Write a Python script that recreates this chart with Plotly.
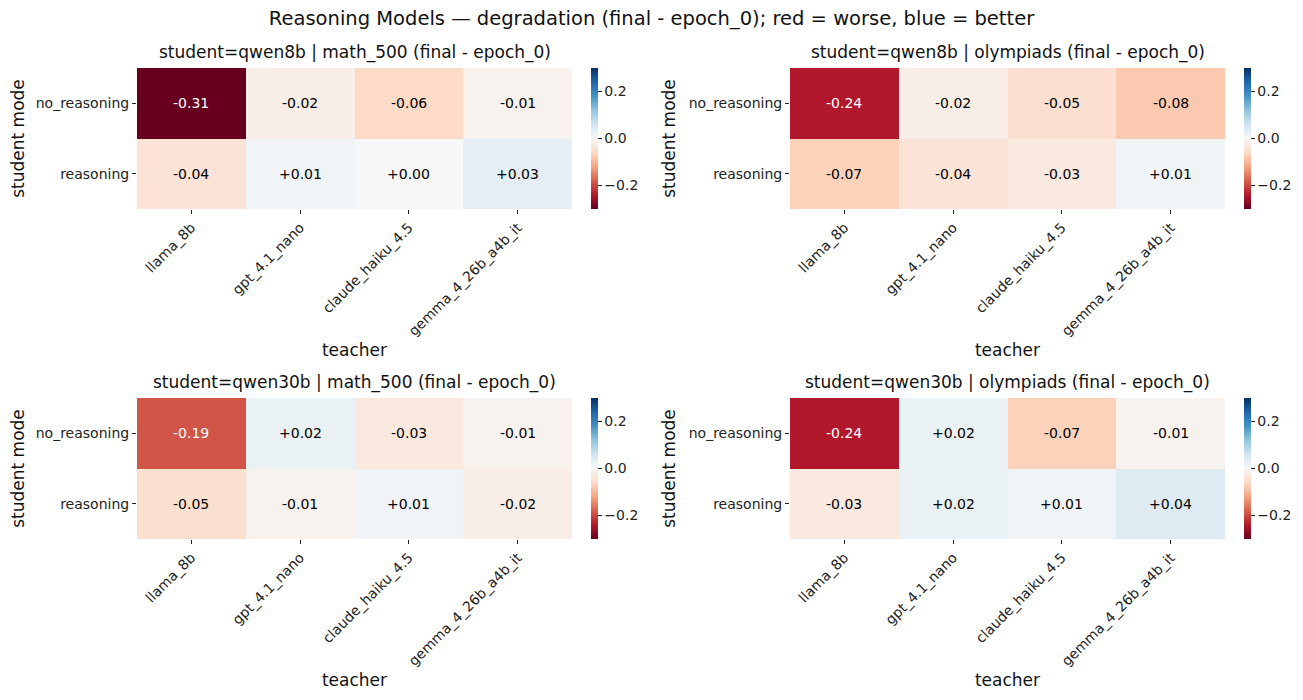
import plotly.graph_objects as go

# ---------------------------------------------------------------------------
# Data
# ---------------------------------------------------------------------------
TEACHERS = ["llama_8b", "gpt_4.1_nano", "claude_haiku_4.5", "gemma_4_26b_a4b_it"]
MODES = ["no_reasoning", "reasoning"]

QWEN8B_MATH500 = [[-0.31, -0.02, -0.06, -0.01],
                  [-0.04, 0.01, 0.00, 0.03]]
QWEN8B_OLYMPIADS = [[-0.24, -0.02, -0.05, -0.08],
                    [-0.07, -0.04, -0.03, 0.01]]
QWEN30B_MATH500 = [[-0.19, 0.02, -0.03, -0.01],
                   [-0.05, -0.01, 0.01, -0.02]]
QWEN30B_OLYMPIADS = [[-0.24, 0.02, -0.07, -0.01],
                     [-0.03, 0.02, 0.01, 0.04]]

PANELS = [
    ("student=qwen8b | math_500 (final - epoch_0)", QWEN8B_MATH500),
    ("student=qwen8b | olympiads (final - epoch_0)", QWEN8B_OLYMPIADS),
    ("student=qwen30b | math_500 (final - epoch_0)", QWEN30B_MATH500),
    ("student=qwen30b | olympiads (final - epoch_0)", QWEN30B_OLYMPIADS),
]

# matplotlib RdBu
RDBU = ["#67001f", "#b2182b", "#d6604d", "#f4a582", "#fddbc7", "#f7f7f7",
        "#d1e5f0", "#92c5de", "#4393c3", "#2166ac", "#053061"]
COLORSCALE = [[i / (len(RDBU) - 1), c] for i, c in enumerate(RDBU)]

FONT = "DejaVu Sans"
# page body has an 8px margin, so the figure is a bit smaller than the window
OFF = 8
W, H = 1303 - OFF, 700 - OFF

# pixel boxes of each heatmap in window coords: (left, right) / (top, bottom)
COLS = [(137, 572), (790, 1225)]
ROWS = [(68, 209), (398, 539)]


def px_x(px):
    return (px - OFF) / W


def px_y(py):
    return 1 - (py - OFF) / H


fig = go.Figure()

for i, (title, z) in enumerate(PANELS):
    r, c = divmod(i, 2)
    x0, x1 = COLS[c]
    y0, y1 = ROWS[r]
    xa = "x" if i == 0 else f"x{i + 1}"
    ya = "y" if i == 0 else f"y{i + 1}"
    fig.add_trace(
        go.Heatmap(
            z=z, x=TEACHERS, y=MODES,
            xaxis=xa, yaxis=ya,
            colorscale=COLORSCALE, zmin=-0.3, zmax=0.3,
            hoverinfo="skip",
            colorbar=dict(
                x=px_x(x1 + 19), xanchor="left",
                y=px_y(y0), yanchor="top",
                len=(y1 - y0), lenmode="pixels",
                thickness=7, outlinewidth=0, xpad=0, ypad=0,
                tickvals=[-0.2, 0.0, 0.2], ticktext=["\u22120.2", "0.0", "0.2"],
                ticks="outside", ticklen=4, tickcolor="#222",
                tickfont=dict(size=14, color="#222", family=FONT),
            ),
        )
    )
    # cell labels
    for ri, mode in enumerate(MODES):
        for ci, teacher in enumerate(TEACHERS):
            v = z[ri][ci]
            fig.add_annotation(
                x=teacher, y=mode, xref=xa, yref=ya,
                text=f"{v:+.2f}", showarrow=False,
                font=dict(size=14, family=FONT,
                          color="white" if abs(v) >= 0.15 else "black"),
            )
    # panel title
    fig.add_annotation(
        x=px_x((x0 + x1) / 2), y=px_y(y0 - 3), xref="paper", yref="paper",
        text=title, showarrow=False, xanchor="center", yanchor="bottom",
        font=dict(size=17, family=FONT, color="#111"),
    )
    axis_key = "" if i == 0 else str(i + 1)
    fig.update_layout(**{
        f"xaxis{axis_key}": dict(
            domain=[px_x(x0), px_x(x1)], anchor=ya, tickangle=-45, automargin=False,
            ticks="outside", ticklen=4, tickcolor="#222", showgrid=False,
            zeroline=False, showline=False,
            tickfont=dict(size=14, family=FONT, color="#222"),
            title=dict(text="teacher", font=dict(size=17, family=FONT, color="#111"),
                       standoff=6),
        ),
        f"yaxis{axis_key}": dict(
            domain=[px_y(y1), px_y(y0)], anchor=xa, autorange="reversed",
            automargin=False,
            ticks="outside", ticklen=4, tickcolor="#222", showgrid=False,
            zeroline=False, showline=False,
            tickfont=dict(size=14, family=FONT, color="#222"),
            title=dict(text="student mode", font=dict(size=17, family=FONT, color="#111"),
                       standoff=8),
        ),
    })

fig.update_layout(
    title=dict(
        text="Reasoning Models \u2014 degradation (final - epoch_0); red = worse, blue = better",
        font=dict(size=19.5, family=FONT, color="#111"),
        x=0.5 + (1303 / 2 - OFF - W / 2) / W, xanchor="center",
        y=px_y(18), yanchor="middle",
    ),
    width=W, height=H,
    margin=dict(l=0, r=0, t=0, b=0),
    paper_bgcolor="white", plot_bgcolor="white",
    font=dict(family=FONT),
    showlegend=False,
)

fig.write_html("out.html")
